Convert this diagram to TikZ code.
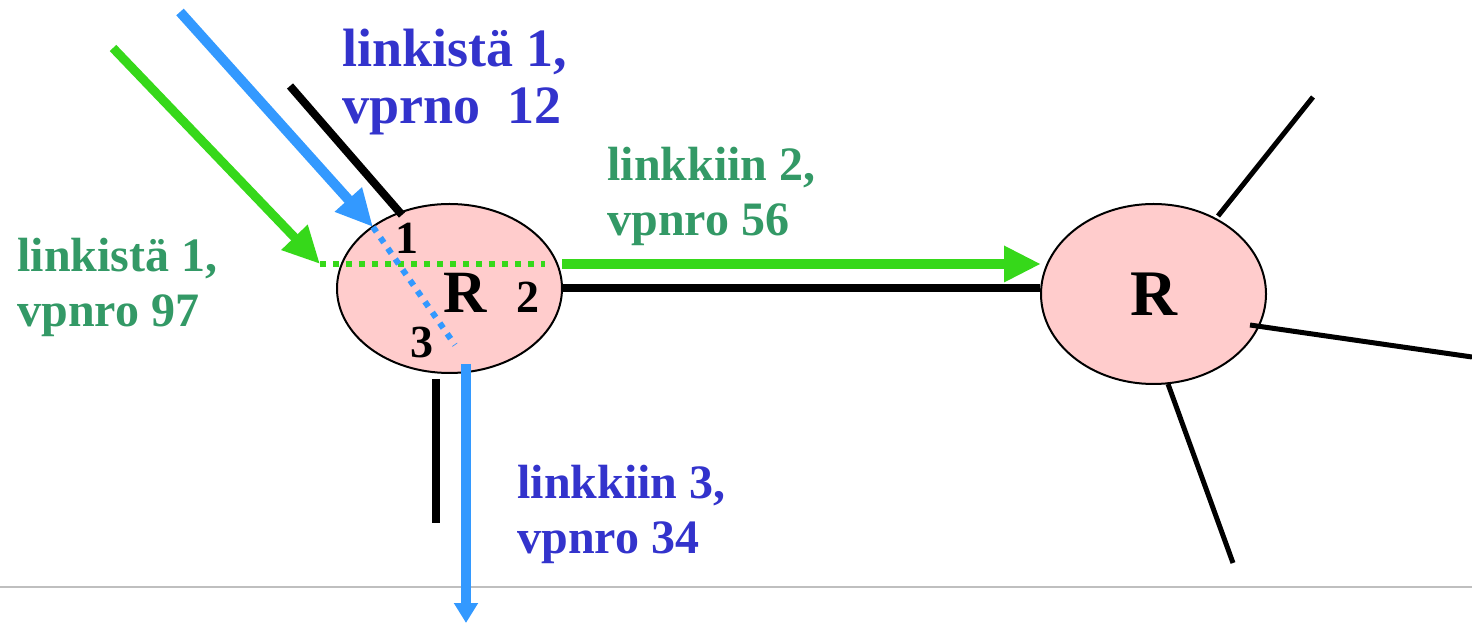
\documentclass[tikz,border=0pt]{standalone}
\usepackage{fontspec}
\setmainfont{Liberation Serif}
\usetikzlibrary{shapes.geometric,arrows.meta}
\definecolor{rosefill}{HTML}{FFCCCC}
\definecolor{labelblue}{HTML}{3333CC}
\definecolor{labelgreen}{HTML}{339966}
\definecolor{flowgreen}{HTML}{36D81A}
\definecolor{flowblue}{HTML}{3399FF}
\definecolor{rulegray}{HTML}{BFBFBF}
\begin{document}
\begin{tikzpicture}[x=0.5pt,y=-0.5pt,
  router/.style={ellipse, draw=black, line width=1pt, fill=rosefill, inner sep=0pt},
  link/.style={draw=black, line width=4pt},
  spoke/.style={draw=black, line width=2.5pt},
  greenflow/.style={draw=flowgreen, line width=4.5pt},
  blueflow/.style={draw=flowblue, line width=5pt},
  greenpath/.style={draw=flowgreen, line width=3pt, dash pattern=on 3pt off 3.5pt},
  bluepath/.style={draw=flowblue, line width=3pt, dash pattern=on 3pt off 3.5pt},
  bighead/.style={-{Triangle[length=18.5pt,width=17pt]}},
  smallhead/.style={-{Triangle[length=10pt,width=11.5pt]}},
  lab/.style={anchor=base west, inner sep=0pt, font=\fontsize{24}{28}\selectfont\bfseries},
  biglab/.style={lab, font=\fontsize{27}{30}\selectfont\bfseries},
  port/.style={anchor=base, inner sep=0pt, font=\fontsize{23}{26}\selectfont\bfseries},
  rmark/.style={anchor=base, inner sep=0pt, font=\fontsize{30}{34}\selectfont\bfseries}
]
\useasboundingbox (0,0) rectangle (1472,624);
% rule
\coordinate (ruleA) at (0,587);
\coordinate (ruleB) at (1472,587);
\draw[rulegray, line width=1pt] (ruleA) -- (ruleB);
% routers
\node[router, minimum width=112.5pt, minimum height=84.5pt] (L) at (449.5,288.5) {};
\node[router, minimum width=112.5pt, minimum height=90pt,
      font=\fontsize{32.5}{36}\selectfont\bfseries] (R) at (1153.5,294) {R};
% free ends
\coordinate (topEnd) at (290,86);   \coordinate (topIn) at (402,215);
\coordinate (botIn) at (436,379);   \coordinate (botEnd) at (436,523);
\coordinate (rUpIn) at (1218,216);  \coordinate (rUpEnd) at (1313,97);
\coordinate (rRtIn) at (1250,325);  \coordinate (rRtEnd) at (1472,357);
\coordinate (rDnIn) at (1168,384);  \coordinate (rDnEnd) at (1233,563);
\coordinate (gStart) at (113,48);   \coordinate (gIn) at (320,264);
\coordinate (gThru) at (545,264);   \coordinate (gOut) at (562,264);
\coordinate (gTip) at (1041,264);
\coordinate (bStart) at (180,12);   \coordinate (bIn) at (373,227);
\coordinate (bThru) at (455,345);   \coordinate (bOut) at (466,364);
\coordinate (bTip) at (466,623);
% links
\draw[link] (topEnd) -- (topIn);
\draw[link] (botIn) -- (botEnd);
\draw[link] (L.east) -- (L.east -| R.west);
\draw[spoke] (rUpIn) -- (rUpEnd);
\draw[spoke] (rRtIn) -- (rRtEnd);
\draw[spoke] (rDnIn) -- (rDnEnd);
% flows
\draw[greenflow, bighead] (gStart) -- (gIn);
\draw[greenpath] (gIn) -- (gThru);
\draw[greenflow, line width=5pt, bighead] (gOut) -- (gTip);
\draw[blueflow, bighead] (bStart) -- (bIn);
\draw[bluepath] (bIn) -- (bThru);
\draw[blueflow, smallhead] (bOut) -- (bTip);
% router labels
\node[port] (p1) at (407,254) {1};
\node[rmark] (rl) at (465,313) {R};
\node[port] (p2) at (528,313) {2};
\node[port] (p3) at (422,358) {3};
% text labels
\node[biglab, text=labelblue] (t1a) at (342,67) {linkistä 1,};
\node[biglab, text=labelblue] (t1b) at (342,124) {vprno\ \ 12};
\node[lab, text=labelgreen] (t2a) at (607,181) {linkkiin 2,};
\node[lab, text=labelgreen] (t2b) at (607,236) {vpnro 56};
\node[lab, text=labelgreen] (t3a) at (17,272) {linkistä 1,};
\node[lab, text=labelgreen] (t3b) at (17,327) {vpnro 97};
\node[lab, text=labelblue] (t4a) at (517,499) {linkkiin 3,};
\node[lab, text=labelblue] (t4b) at (517,553) {vpnro 34};
\end{tikzpicture}
\end{document}
